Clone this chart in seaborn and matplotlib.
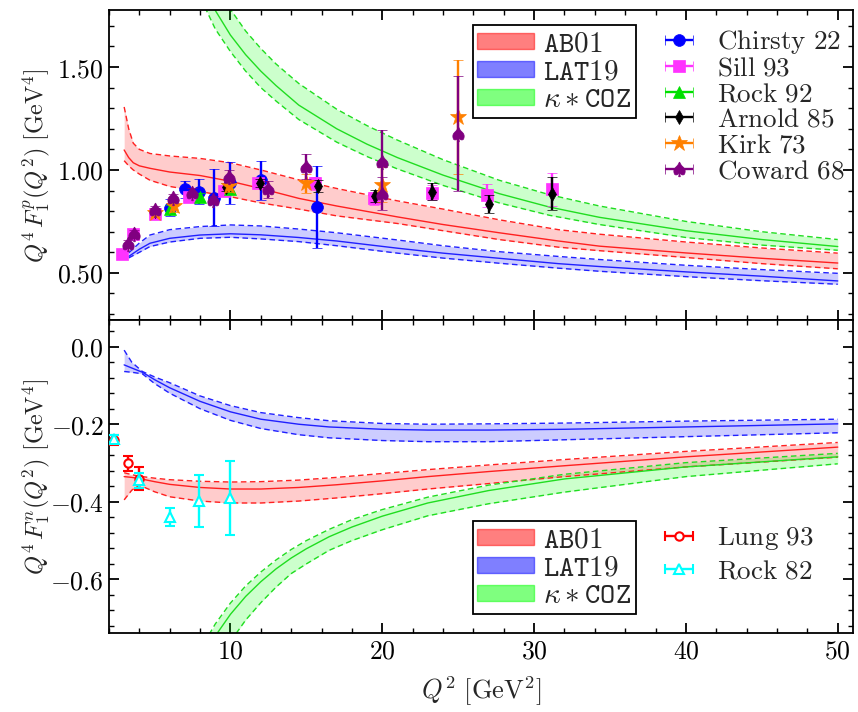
import numpy as np
import matplotlib
matplotlib.use("Agg")
import matplotlib.pyplot as plt
import seaborn as sns
from matplotlib.patches import Patch
from matplotlib.ticker import MultipleLocator, FuncFormatter

# ---------------- proton (top) bands ----------------
p_ab01_q = [3.0, 3.3, 3.6, 4.0, 4.7, 6, 8, 10, 12, 14.5, 17, 21, 24, 27.7, 31.6, 34.3, 40, 45, 50]
p_ab01_mid = [1.097, 1.06, 1.035, 1.02, 1.008, 0.99, 0.973, 0.945, 0.91, 0.862, 0.825, 0.772, 0.735, 0.695, 0.655, 0.63, 0.597, 0.571, 0.548]
p_ab01_hi = [1.306, 1.2, 1.13, 1.10, 1.08, 1.068, 1.056, 1.035, 1.0, 0.952, 0.91, 0.85, 0.81, 0.758, 0.71, 0.688, 0.65, 0.621, 0.596]
p_ab01_lo = [1.045, 1.02, 1.0, 0.98, 0.95, 0.92, 0.895, 0.87, 0.84, 0.81, 0.777, 0.74, 0.705, 0.662, 0.625, 0.608, 0.575, 0.545, 0.52]

p_lat_q = [3.3, 4.0, 4.7, 6, 8, 10, 12, 14.5, 17, 21, 24, 27.7, 31.6, 34.3, 40, 45, 50]
p_lat_mid = [0.58, 0.615, 0.644, 0.668, 0.684, 0.69, 0.685, 0.672, 0.655, 0.62, 0.596, 0.571, 0.545, 0.531, 0.505, 0.484, 0.461]
p_lat_hi = [0.597, 0.645, 0.684, 0.71, 0.725, 0.733, 0.728, 0.713, 0.695, 0.66, 0.632, 0.603, 0.58, 0.565, 0.537, 0.516, 0.498]
p_lat_lo = [0.573, 0.60, 0.628, 0.65, 0.668, 0.673, 0.665, 0.652, 0.632, 0.596, 0.572, 0.547, 0.523, 0.508, 0.482, 0.462, 0.445]

p_coz_q = [8, 9, 10, 11, 12, 13, 14.5, 17, 19, 21, 24, 27.7, 31, 34.3, 40, 45, 50]
p_coz_mid = [1.93, 1.775, 1.655, 1.56, 1.48, 1.41, 1.315, 1.20, 1.125, 1.06, 0.975, 0.885, 0.82, 0.77, 0.705, 0.662, 0.628]
p_coz_hi = [2.10, 1.92, 1.78, 1.675, 1.59, 1.515, 1.42, 1.295, 1.215, 1.145, 1.05, 0.95, 0.88, 0.825, 0.75, 0.70, 0.662]
p_coz_lo = [1.84, 1.685, 1.575, 1.48, 1.40, 1.335, 1.245, 1.135, 1.065, 1.005, 0.925, 0.84, 0.78, 0.735, 0.672, 0.635, 0.61]

# ---------------- neutron (bottom) bands ----------------
n_ab01_q = [3.0, 3.5, 4, 5, 6, 8, 10, 12, 14.5, 17, 20, 23, 27, 32, 40, 50]
n_ab01_mid = [-0.335, -0.337, -0.34, -0.348, -0.355, -0.363, -0.367, -0.367, -0.363, -0.356, -0.346, -0.335, -0.322, -0.307, -0.284, -0.259]
n_ab01_hi = [-0.325, -0.33, -0.334, -0.339, -0.343, -0.347, -0.349, -0.348, -0.344, -0.337, -0.327, -0.317, -0.305, -0.291, -0.27, -0.247]
n_ab01_lo = [-0.395, -0.37, -0.357, -0.374, -0.387, -0.398, -0.403, -0.403, -0.398, -0.39, -0.379, -0.367, -0.353, -0.335, -0.31, -0.285]

n_lat_q = [3.0, 3.5, 4.2, 5, 6, 8, 10, 12, 14.5, 16.5, 20, 23, 27, 32, 40, 50]
n_lat_mid = [-0.047, -0.055, -0.066, -0.085, -0.106, -0.141, -0.168, -0.187, -0.2, -0.207, -0.213, -0.215, -0.215, -0.213, -0.207, -0.199]
n_lat_hi = [-0.009, -0.04, -0.064, -0.078, -0.093, -0.127, -0.152, -0.17, -0.183, -0.191, -0.198, -0.2, -0.199, -0.197, -0.192, -0.187]
n_lat_lo = [-0.064, -0.066, -0.07, -0.095, -0.12, -0.16, -0.19, -0.211, -0.227, -0.235, -0.242, -0.245, -0.245, -0.24, -0.232, -0.222]

n_coz_q = [8, 9, 10, 11, 12, 13, 14, 15, 16.5, 18, 20, 23, 27, 32, 40, 50]
n_coz_mid = [-0.817, -0.746, -0.69, -0.644, -0.606, -0.573, -0.545, -0.521, -0.49, -0.465, -0.437, -0.403, -0.371, -0.341, -0.31, -0.284]
n_coz_hi = [-0.782, -0.715, -0.661, -0.617, -0.581, -0.55, -0.523, -0.50, -0.471, -0.446, -0.42, -0.388, -0.357, -0.329, -0.299, -0.275]
n_coz_lo = [-0.90, -0.825, -0.76, -0.705, -0.66, -0.62, -0.585, -0.56, -0.525, -0.50, -0.472, -0.436, -0.405, -0.375, -0.335, -0.302]

# ---------------- proton data ----------------
chr_q = [6.0, 7.0, 7.9, 8.95, 10.0, 12.0, 15.7]
chr_v = [0.817, 0.906, 0.895, 0.866, 0.937, 0.95, 0.819]
chr_e = [0.04, 0.04, 0.062, 0.14, 0.103, 0.095, 0.2]

sill_q = [2.87, 3.6, 5.0, 7.26, 9.56, 11.8, 15.6, 19.47, 23.25, 26.9, 31.2]
sill_v = [0.59, 0.69, 0.785, 0.87, 0.90, 0.938, 0.935, 0.862, 0.89, 0.877, 0.906]
sill_e = [0.015, 0.015, 0.02, 0.02, 0.02, 0.02, 0.03, 0.03, 0.035, 0.055, 0.08]

rock92_q = [6.0, 8.0, 10.0]
rock92_v = [0.809, 0.867, 0.906]
rock92_e = [0.02, 0.02, 0.02]

arn_q = [5.0, 9.7, 11.95, 15.75, 19.5, 23.25, 27.0, 31.2]
arn_v = [0.80, 0.916, 0.938, 0.922, 0.874, 0.895, 0.835, 0.885]
arn_e = [0.015, 0.02, 0.02, 0.03, 0.03, 0.04, 0.045, 0.08]

kirk_q = [5.0, 6.3, 9.93, 15.0, 20.0, 25.0]
kirk_v = [0.79, 0.825, 0.922, 0.935, 0.927, 1.257]
kirk_e = [0.02, 0.03, 0.03, 0.047, 0.085, 0.277]

cow_q = [3.24, 3.68, 5.0, 6.25, 7.48, 8.84, 9.93, 12.45, 15.0, 20.0, 20.0, 25.0]
cow_v = [0.64, 0.688, 0.806, 0.862, 0.89, 0.854, 0.968, 0.906, 1.016, 1.04, 0.885, 1.177]
cow_e = [0.02, 0.02, 0.02, 0.02, 0.02, 0.02, 0.03, 0.04, 0.062, 0.155, 0.08, 0.277]

# ---------------- neutron data ----------------
lung_q = [2.35, 3.24, 4.0]
lung_v = [-0.24, -0.301, -0.34]
lung_e = [0.013, 0.02, 0.03]

rock82_q = [2.35, 4.0, 6.03, 7.96, 9.98]
rock82_v = [-0.237, -0.345, -0.44, -0.397, -0.39]
rock82_e = [0.008, 0.02, 0.023, 0.067, 0.096]

band_labels = [r"$\mathtt{AB01}$", r"$\mathtt{LAT19}$", r"$\kappa * \mathtt{COZ}$"]

sns.set_theme(style="ticks")
plt.rcParams.update({
    "mathtext.fontset": "cm",
    "font.family": ["DejaVu Serif"],
    "axes.linewidth": 1.3,
    "axes.edgecolor": "black",
})

RED, BLUE, GREEN = "#ff2020", "#2020ff", "#20dd20"
RED_F, BLUE_F, GREEN_F = "#ff0000", "#0000ff", "#00ff00"

fig = plt.figure(figsize=(8.58, 7.12), dpi=100)
L, W = 0.127, 0.8671
ax1 = fig.add_axes([L, 0.5499, W, 0.4361])
ax2 = fig.add_axes([L, 0.1105, W, 0.4394], sharex=ax1)


def band(ax, q, lo, mid, hi, lc, fc):
    ax.fill_between(q, lo, hi, color=fc, alpha=0.2, lw=0, zorder=1)
    sns.lineplot(x=q, y=mid, ax=ax, color=lc, lw=1.0, errorbar=None, zorder=2)
    for b in (lo, hi):
        sns.lineplot(x=q, y=b, ax=ax, color=lc, lw=1.0, errorbar=None,
                     linestyle=(0, (4, 2.5)), zorder=2)


band(ax1, p_ab01_q, p_ab01_lo, p_ab01_mid, p_ab01_hi, RED, RED_F)
band(ax1, p_lat_q, p_lat_lo, p_lat_mid, p_lat_hi, BLUE, BLUE_F)
band(ax1, p_coz_q, p_coz_lo, p_coz_mid, p_coz_hi, GREEN, GREEN_F)
band(ax2, n_ab01_q, n_ab01_lo, n_ab01_mid, n_ab01_hi, RED, RED_F)
band(ax2, n_lat_q, n_lat_lo, n_lat_mid, n_lat_hi, BLUE, BLUE_F)
band(ax2, n_coz_q, n_coz_lo, n_coz_mid, n_coz_hi, GREEN, GREEN_F)

SPADE = r"$\spadesuit$"
series_top = [
    ("Chirsty 22", chr_q, chr_v, chr_e, "#0000ff", "o", 8.5, None),
    ("Sill 93", sill_q, sill_v, sill_e, "#ff33ff", "s", 8.5, None),
    ("Rock 92", rock92_q, rock92_v, rock92_e, "#00e000", "^", 8.5, None),
    ("Arnold 85", arn_q, arn_v, arn_e, "#000000", "d", 7.5, None),
    ("Kirk 73", kirk_q, kirk_v, kirk_e, "#ff8000", "*", 12, None),
    ("Coward 68", cow_q, cow_v, cow_e, "#800080", SPADE, 10.5, None),
]
series_bot = [
    ("Lung 93", lung_q, lung_v, lung_e, "#ff0000", "o", 6, "white"),
    ("Rock 82", rock82_q, rock82_v, rock82_e, "#00ffff", "^", 7, "white"),
]

EB = dict(elinewidth=1.7, capsize=3.8, capthick=1.7, linestyle="none")


def draw_points(ax, series, zbase):
    handles = []
    for i, (lab, q, v, e, c, m, ms, mfc) in enumerate(series):
        kw = dict(marker=m, ms=ms, color=c, mfc=mfc if mfc else c,
                  mec=c, mew=1.5 if mfc else 0.5)
        ax.errorbar(q, v, yerr=e, zorder=zbase + i, **kw, **EB)
        h = ax.errorbar([np.nan], [np.nan], xerr=[1.0], label=lab, **kw, **EB)
        handles.append(h)
    return handles


h_top = draw_points(ax1, series_top, 4)
h_bot = draw_points(ax2, series_bot, 4)

fmt_top = FuncFormatter(lambda v, p: r"$%.2f$" % v)
fmt_bot = FuncFormatter(lambda v, p: r"$%.1f$" % v)
fmt_x = FuncFormatter(lambda v, p: r"$%d$" % round(v))

for ax in (ax1, ax2):
    ax.set_xlim(2, 51)
    ax.xaxis.set_major_locator(MultipleLocator(10))
    ax.xaxis.set_minor_locator(MultipleLocator(2))
    ax.tick_params(which="both", direction="in", top=True, right=True,
                   bottom=True, left=True, colors="black", labelsize=18.5)
    ax.tick_params(which="major", length=7, width=1.3)
    ax.tick_params(which="minor", length=3.5, width=1.0)
    for s in ax.spines.values():
        s.set_visible(True)
        s.set_color("black")
        s.set_linewidth(1.3)
    ax.set_facecolor("white")

ax1.set_ylim(0.269, 1.777)
ax1.yaxis.set_major_locator(MultipleLocator(0.5))
ax1.yaxis.set_minor_locator(MultipleLocator(0.1))
ax1.yaxis.set_major_formatter(fmt_top)
ax1.tick_params(labelbottom=False)

ax2.set_ylim(-0.739, 0.0675)
ax2.yaxis.set_major_locator(MultipleLocator(0.2))
ax2.yaxis.set_minor_locator(MultipleLocator(0.04))
ax2.yaxis.set_major_formatter(fmt_bot)
ax2.xaxis.set_major_formatter(fmt_x)

ax1.set_ylabel(r"$Q^4\,F_1^p(Q^2)\ [\mathrm{GeV}^4]$", fontsize=17.5)
ax2.set_ylabel(r"$Q^4\,F_1^n(Q^2)\ [\mathrm{GeV}^4]$", fontsize=17.5)
ax2.set_xlabel(r"$Q^2\ [\mathrm{GeV}^2]$", fontsize=19, labelpad=8)
ax1.yaxis.set_label_coords(-0.077, 0.5)
ax2.yaxis.set_label_coords(-0.077, 0.5)


def band_handles():
    return [Patch(facecolor=fc, alpha=0.5, edgecolor=fc, lw=1.0)
            for fc in (RED_F, BLUE_F, GREEN_F)]


for ax, ytop in ((ax1, 1 - 25 / 712), (ax2, 1 - 521 / 712)):
    lg = ax.legend(band_handles(), band_labels, loc="upper left",
                   bbox_to_anchor=(473 / 858, ytop), bbox_transform=fig.transFigure,
                   fontsize=21, frameon=True, fancybox=False, framealpha=1,
                   edgecolor="black", handlelength=1.95, handleheight=0.45,
                   handletextpad=0.3, labelspacing=0.0, borderpad=0.15,
                   borderaxespad=0)
    lg.get_frame().set_linewidth(1.3)
    ax.add_artist(lg)

lab_top = [r"$\mathrm{%s}$" % s[0].replace(" ", r"\ ") for s in series_top]
lab_bot = [r"$\mathrm{%s}$" % s[0].replace(" ", r"\ ") for s in series_bot]
lg2 = ax1.legend(h_top, lab_top, loc="upper left", bbox_to_anchor=(660 / 858, 1 - 28 / 712),
                 bbox_transform=fig.transFigure, frameon=False, fontsize=19.5,
                 handlelength=1.4, handletextpad=0.7, labelspacing=-0.05,
                 borderaxespad=0, borderpad=0)
lg3 = ax2.legend(h_bot, lab_bot, loc="upper left", bbox_to_anchor=(660 / 858, 1 - 524 / 712),
                 bbox_transform=fig.transFigure, frameon=False, fontsize=19.5,
                 handlelength=1.4, handletextpad=0.7, labelspacing=0.2,
                 borderaxespad=0, borderpad=0)

fig.savefig("out.png", dpi=100, facecolor="white")
